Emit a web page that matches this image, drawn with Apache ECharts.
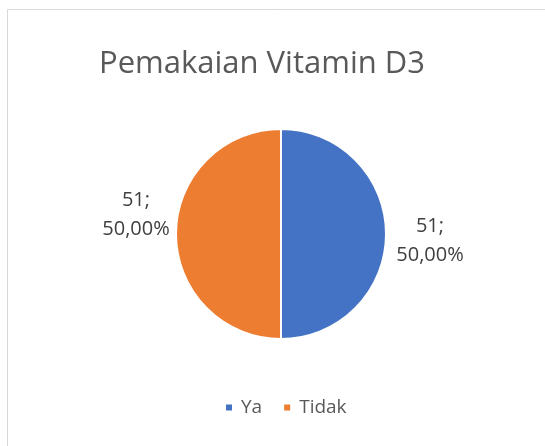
<!DOCTYPE html>
<html>
<head>
<meta charset="utf-8">
<script src="https://cdn.jsdelivr.net/npm/echarts@6/dist/echarts.min.js"></script>
<style>
  html, body { margin: 0; padding: 0; background: #fff; }
  #chart { width: 545px; height: 446px; }
</style>
</head>
<body>
<div id="chart"></div>
<script>
// data
const categories = ['Ya', 'Tidak'];
const counts = [51, 51];
const percents = ['50,00%', '50,00%'];
const colors = ['#4472C4', '#ED7D31'];

const chart = echarts.init(document.getElementById('chart'));

const pieData = categories.map((name, i) => ({
    name: name,
    value: counts[i],
    itemStyle: { color: colors[i] }
}));

const option = {
    animation: false,
    backgroundColor: '#fff',
    graphic: [{
        type: 'rect',
        shape: { x: 7.5, y: 9.5, width: 700, height: 600 },
        style: { fill: 'none', stroke: '#d9d9d9', lineWidth: 1 },
        silent: true
    }],
    title: {
        text: 'Pemakaian Vitamin D3',
        left: 257,
        top: 44,
        textAlign: 'center',
        textStyle: {
            fontFamily: 'Open Sans',
            fontSize: 31,
            fontWeight: 'normal',
            color: '#595959'
        }
    },
    legend: {
        data: categories,
        top: 398,
        left: 224,
        padding: 0,
        icon: 'rect',
        itemWidth: 8,
        itemHeight: 8,
        itemGap: 20,
        textStyle: {
            fontFamily: 'Open Sans',
            fontSize: 19,
            color: '#595959',
            padding: [0, 0, 0, 3]
        }
    },
    series: [{
        type: 'pie',
        center: [281, 234],
        radius: [0, 105],
        startAngle: 90,
        clockwise: true,
        itemStyle: { borderColor: '#fff', borderWidth: 2 },
        label: {
            show: true,
            position: 'outside',
            formatter: p => counts[p.dataIndex] + ';\n' + percents[p.dataIndex],
            fontFamily: 'Open Sans',
            fontSize: 20,
            lineHeight: 29,
            color: '#404040',
            align: 'center'
        },
        labelLine: { show: false },
        labelLayout: function (params) {
            if (params.dataIndex === 0) {
                return { x: 430, y: 241, align: 'center', verticalAlign: 'middle' };
            }
            return { x: 136, y: 215, align: 'center', verticalAlign: 'middle' };
        },
        data: pieData
    }]
};

chart.setOption(option);
</script>
</body>
</html>
